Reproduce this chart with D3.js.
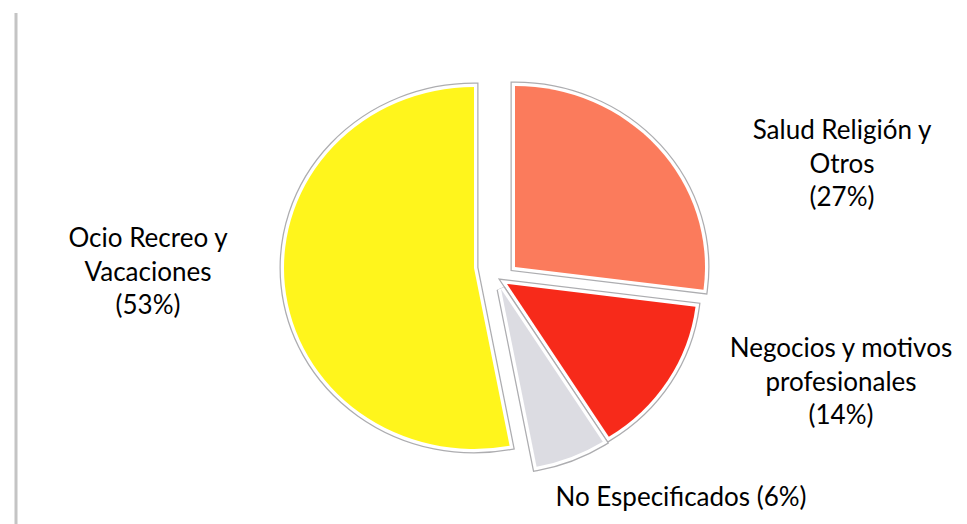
<!DOCTYPE html>
<html>
<head>
<meta charset="utf-8">
<script src="https://cdn.jsdelivr.net/npm/d3@7"></script>
<style>
  html, body { margin: 0; padding: 0; background: #ffffff; }
  svg { display: block; }
  text { font-family: Lato, "Liberation Sans", sans-serif; fill: #000; }
</style>
</head>
<body>
<svg id="chart" width="967" height="524"></svg>
<script>
// Motivo de viaje — shares in percent, clockwise from 12 o'clock
const categories = [
  "Salud Religión y Otros",
  "Negocios y motivos profesionales",
  "No Especificados",
  "Ocio Recreo y Vacaciones"
];
const values = [27, 14, 6, 53];
const colors = ["#fb7b5c", "#f72a1a", "#dcdce2", "#fff51c"];
// label text lines (the percentage line is appended from values)
const labelNames = [
  ["Salud Religión y", "Otros"],
  ["Negocios y motivos", "profesionales"],
  ["No Especificados"],
  ["Ocio Recreo y", "Vacaciones"]
];

// ---- layout ----
const W = 967, H = 524;
const cx = 495, cy = 277;      // pie centre
const ry = 181, rx = 190;       // slightly wider than tall
const explode = [[20, -10], [12, 7], [6, 12], [-21, -9]];  // per-slice pull-out
const labelPos = [[842, 130], [841, 348], [681, 497], [148, 238]];
const lineH = 33.5;
const fontSize = 26;

const svg = d3.select("#chart");

// thin grey rule on the left edge
svg.append("line")
  .attr("x1", 16).attr("x2", 16)
  .attr("y1", 13).attr("y2", H)
  .attr("stroke", "#c4c4c4").attr("stroke-width", 3);

const pie = d3.pie().sort(null).value(d => d)(values);
const arc = d3.arc().innerRadius(0).outerRadius(ry);

const slices = svg.append("g")
  .attr("transform", `translate(${cx},${cy})`)
  .selectAll("g")
  .data(pie)
  .join("g")
  .attr("transform", (d, i) => `translate(${explode[i][0]},${explode[i][1]}) scale(${rx / ry},1)`);

// grey outline ring sitting a few pixels outside each slice
slices.append("path")
  .attr("d", arc)
  .attr("fill", "none")
  .attr("stroke", "#adadb0")
  .attr("stroke-width", 9)
  .attr("stroke-linejoin", "miter")
  .attr("vector-effect", "non-scaling-stroke");
slices.append("path")
  .attr("d", arc)
  .attr("fill", "#ffffff")
  .attr("stroke", "#ffffff")
  .attr("stroke-width", 6.5)
  .attr("stroke-linejoin", "miter")
  .attr("vector-effect", "non-scaling-stroke");
slices.append("path")
  .attr("d", arc)
  .attr("fill", (d, i) => colors[i]);

// labels
const labels = svg.append("g")
  .selectAll("text")
  .data(pie)
  .join("text")
  .attr("text-anchor", "middle")
  .attr("font-size", fontSize)
  .attr("transform", (d, i) => `translate(${labelPos[i][0]},${labelPos[i][1]})`);

labels.each(function (d, i) {
  const pct = `(${d.data}%)`;
  let lines = labelNames[i].slice();
  if (lines.length === 1) lines = [lines[0] + " " + pct];
  else lines.push(pct);
  d3.select(this).selectAll("tspan")
    .data(lines)
    .join("tspan")
    .attr("x", 0)
    .attr("y", (t, k) => k * lineH)
    .attr("dy", "0.35em")
    .text(t => t);
});
</script>
</body>
</html>
